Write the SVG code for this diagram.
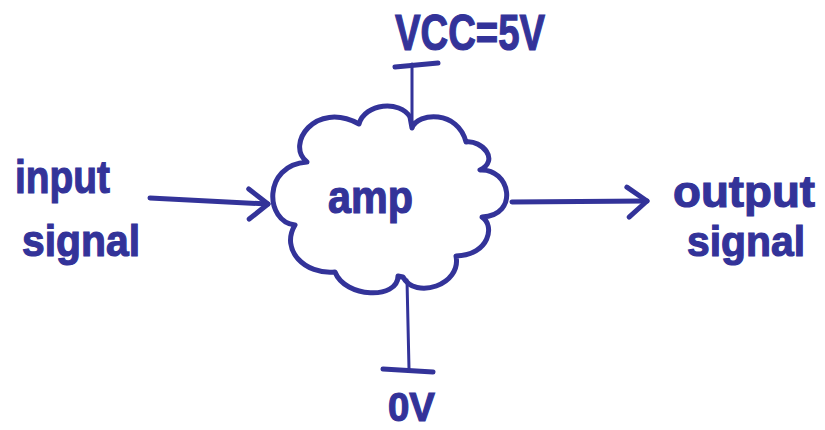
<svg xmlns="http://www.w3.org/2000/svg" width="825" height="430" viewBox="0 0 825 430">
<style>
.ink{fill:none;stroke:#333399;stroke-linecap:round;stroke-linejoin:round}
.lbl{font-family:"Liberation Sans",Arial,sans-serif;fill:#333399;stroke:#333399;stroke-width:1.2;font-weight:bold}
</style>
<defs>
<marker id="chev" viewBox="-26 -20 32 40" refX="0" refY="0" markerWidth="32" markerHeight="40" markerUnits="userSpaceOnUse" orient="auto" overflow="visible">
<path d="M-20,-14 L0,0 L-18,16" fill="none" stroke="#333399" stroke-width="5" stroke-linecap="round" stroke-linejoin="round"/>
</marker>
</defs>
<rect width="825" height="430" fill="#ffffff"/>
<g id="connectors">
<path class="ink" stroke-width="5" d="M150,198 L268,204" marker-end="url(#chev)"/>
<path class="ink" stroke-width="5" d="M512,202 L647,201" marker-end="url(#chev)"/>
<path class="ink" stroke-width="3" d="M412,64 L412,124"/>
<path class="ink" stroke-width="3" d="M407,280 L409,369"/>
</g>
<g id="amp">
<path class="ink" stroke-width="5" d="M359,124 C365,103 400,100 410,117 L412,128 C418,112 458,110 466,142 C482,140 500,160 480,170 C510,168 520,215 482,217 C495,225 490,255 456,256 C462,285 415,300 403,277 L398,276 C398,300 345,298 335,272 C305,275 280,250 295,225 C265,222 262,165 307,162 C285,145 315,100 359,124 Z"/>
<text class="lbl" x="328" y="213" font-size="46" textLength="85" lengthAdjust="spacingAndGlyphs">amp</text>
</g>
<g id="input">
<text class="lbl" x="15" y="193" font-size="46" textLength="95" lengthAdjust="spacingAndGlyphs">input</text>
<text class="lbl" x="22" y="256" font-size="44" textLength="118" lengthAdjust="spacingAndGlyphs">signal</text>
</g>
<g id="output">
<text class="lbl" x="673" y="207" font-size="45" textLength="142" lengthAdjust="spacingAndGlyphs">output</text>
<text class="lbl" x="687" y="256" font-size="43" textLength="118" lengthAdjust="spacingAndGlyphs">signal</text>
</g>
<g id="vcc">
<path class="ink" stroke-width="5" d="M395,67 L438,63"/>
<text class="lbl" x="395" y="50" font-size="50" textLength="150" lengthAdjust="spacingAndGlyphs">VCC=5V</text>
</g>
<g id="gnd">
<path class="ink" stroke-width="5" d="M383,369 L433,372"/>
<text class="lbl" x="388" y="421" font-size="40" textLength="47" lengthAdjust="spacingAndGlyphs">0V</text>
</g>
</svg>
